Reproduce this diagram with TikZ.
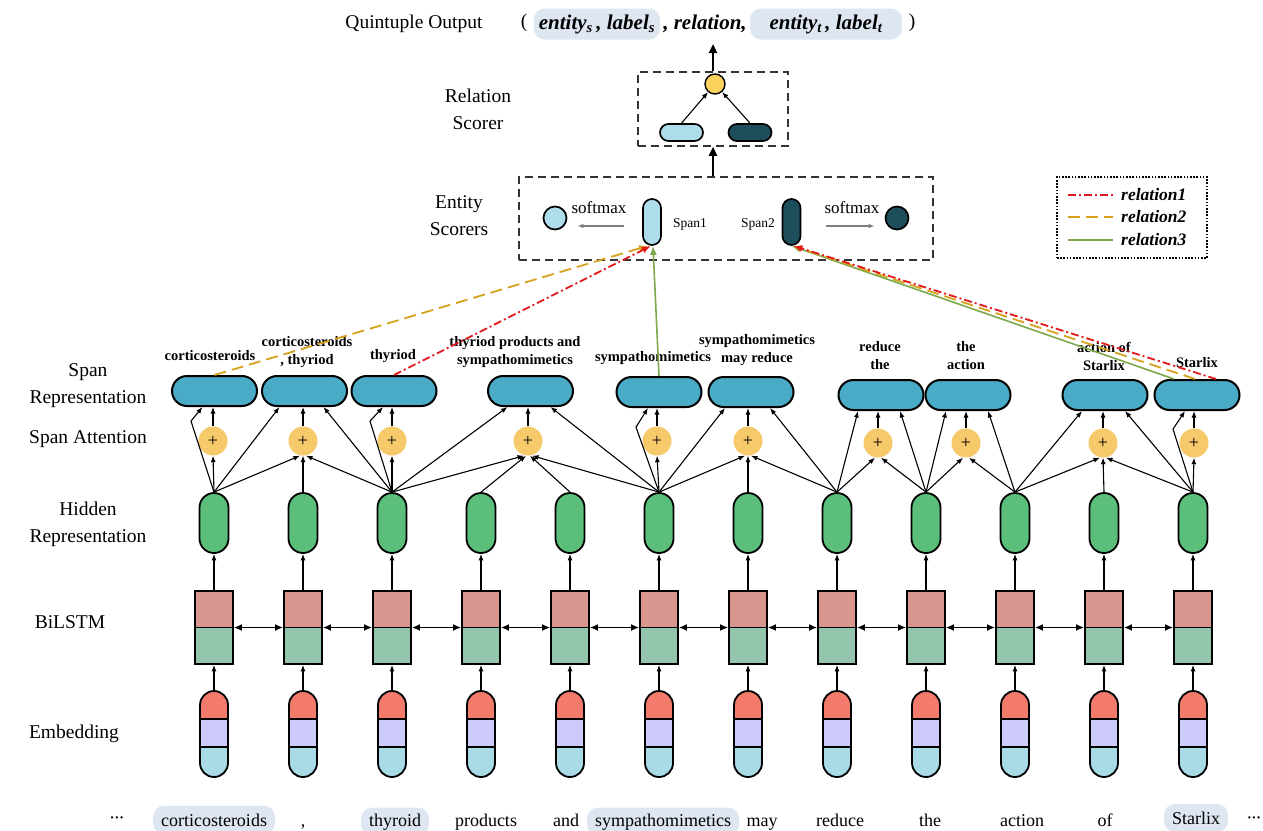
\documentclass[tikz,border=0pt]{standalone}
\usepackage{fontspec}
\setmainfont{Liberation Serif}
\usetikzlibrary{arrows.meta,calc}
\definecolor{spanblue}{HTML}{4AABC6}
\definecolor{plusyel}{HTML}{F6C96B}
\definecolor{hidgreen}{HTML}{5BBF7B}
\definecolor{lstmtop}{HTML}{D9968F}
\definecolor{lstmbot}{HTML}{94C6AD}
\definecolor{embred}{HTML}{F27B6B}
\definecolor{embpur}{HTML}{CDCBFB}
\definecolor{embblue}{HTML}{A8DBE5}
\definecolor{lightspan}{HTML}{ADDCEA}
\definecolor{darkspan}{HTML}{1E4D5C}
\definecolor{relyel}{HTML}{F9D15B}
\definecolor{hlcol}{HTML}{DEE6F1}
\definecolor{rone}{HTML}{E3191C}
\definecolor{rtwo}{HTML}{D6A21E}
\definecolor{rthree}{HTML}{7DA84B}
\definecolor{dashgray}{HTML}{333333}
\tikzset{
  arr/.style={-{Latex[length=6.5pt,width=5pt]}, line width=1.1pt},
  darr/.style={{Latex[length=8pt,width=7pt]}-{Latex[length=8pt,width=7pt]}, line width=1.5pt},
  bigarr/.style={-{Triangle[length=9pt,width=8pt]}, line width=2.2pt},
  grayarr/.style={-{Latex[length=6pt,width=4.5pt]}, line width=1.2pt, gray},
  hid/.style={draw, line width=1.8pt, fill=hidgreen, minimum width=29pt, minimum height=60pt, rounded corners=14.5pt, inner sep=0pt},
  lstm/.style={draw, line width=1.8pt, minimum width=38pt, minimum height=73pt, inner sep=0pt,
    path picture={
      \fill[lstmtop] (path picture bounding box.north west) rectangle (path picture bounding box.east);
      \fill[lstmbot] (path picture bounding box.west) rectangle (path picture bounding box.south east);
      \draw[line width=1.8pt] (path picture bounding box.west) -- (path picture bounding box.east);
    }},
  emb/.style={draw, line width=1.8pt, minimum width=28pt, minimum height=86pt, rounded corners=14pt, inner sep=0pt,
    path picture={
      \fill[embblue, sharp corners] (path picture bounding box.south west) rectangle (path picture bounding box.north east);
      \fill[embred, sharp corners] (path picture bounding box.north west) rectangle ([yshift=-28pt]path picture bounding box.north east);
      \fill[embpur, sharp corners] ([yshift=-28pt]path picture bounding box.north west) rectangle ([yshift=-56pt]path picture bounding box.north east);
      \draw[line width=1.8pt, sharp corners] ([yshift=-28pt]path picture bounding box.north west) -- ([yshift=-28pt]path picture bounding box.north east);
      \draw[line width=1.8pt, sharp corners] ([yshift=-56pt]path picture bounding box.north west) -- ([yshift=-56pt]path picture bounding box.north east);
    }},
  spanbox/.style={draw, line width=2pt, fill=spanblue, minimum width=85pt, minimum height=30pt, rounded corners=15pt, inner sep=0pt},
  plus/.style={circle, fill=plusyel, minimum size=29pt, inner sep=0pt, font=\fontsize{18}{18}\selectfont},
  slabel/.style={font=\fontsize{14.5}{18}\selectfont\bfseries, align=center, inner sep=0pt},
  dashbox/.style={draw=dashgray, line width=1.5pt, dash pattern=on 8pt off 5pt, inner sep=0pt},
  hl/.style={fill=hlcol, rounded corners=11pt, inner xsep=5pt, minimum height=31pt},
  hlw/.style={fill=hlcol, rounded corners=11pt, inner xsep=8pt, minimum height=28pt},
  word/.style={font=\fontsize{18}{20}\selectfont, anchor=base},
  bi/.style={font=\fontsize{21}{24}\selectfont\bfseries\itshape},
  rel1/.style={rone, line width=1.8pt, dash pattern=on 8pt off 3pt on 2pt off 3pt},
  rel2/.style={rtwo, line width=1.8pt, dash pattern=on 12pt off 6pt},
  rel3/.style={rthree, line width=1.6pt},
  reltip/.style={-{Latex[length=9pt,width=7pt]}},
  legtext/.style={font=\fontsize{17.5}{20}\selectfont\bfseries\itshape, inner sep=0pt}
}
\begin{document}
\begin{tikzpicture}[x=1pt,y=-1pt,font=\fontsize{19.5}{27}\selectfont]
\useasboundingbox (0,0) rectangle (1263,830);
\fill[white] (0,0) rectangle (1263,830);

% left labels
\node[align=center] (lsr) at (88,386) {Span\\Representation};
\node (lsa) at (88,439) {Span Attention};
\node[align=center] (lhr) at (88,524) {Hidden\\Representation};
\node (lbl) at (70,622) {BiLSTM};
\node (lem) at (74,734) {Embedding};
\node[align=center] (lrs) at (478,109) {Relation\\Scorer};
\node[align=center] (les) at (459,216) {Entity\\Scorers};

% quintuple output
\node (qo) at (414,24) {Quintuple Output};
\node (lp) at (524,23) {(};
\node[hl, bi, minimum width=126pt] (hq1) at (597,24) {entity\textsubscript{s}\,, label\textsubscript{s}};
\node[bi, inner sep=0pt] (qrel) at (705,24) {, relation,};
\node[hl, bi, minimum width=152pt] (hq2) at (826,24) {entity\textsubscript{t}\,, label\textsubscript{t}\hspace{12pt}};
\node (rp) at (912,23) {)};
\coordinate (qarrow) at (713,44);

% columns
\foreach \i/\x in {1/214,2/303,3/392,4/481,5/570,6/659,7/748,8/837,9/926,10/1015,11/1104,12/1193} {
  \node[hid] (h\i) at (\x,523) {};
  \node[lstm] (r\i) at (\x,627.5) {};
  \node[emb] (e\i) at (\x,734) {};
  \draw[arr] (e\i.north) -- (r\i.south);
  \draw[arr] (r\i.north) -- (h\i.south);
}
\foreach \i in {1,...,11} {
  \pgfmathtruncatemacro{\j}{\i+1}
  \draw[darr] (r\i.east) -- (r\j.west);
}

% span representation boxes
\foreach \i/\x/\y in {1/214.5/391,2/304.5/391,3/394/391,4/530.5/391,5/659/392,6/751/392,7/881/395,8/968/395,9/1105/395,10/1197/395} {
  \node[spanbox] (s\i) at (\x,\y) {};
}
% span attention circles
\foreach \i/\x/\y in {1/213/441,2/303/441,3/392/441,4/528/441,5/657/441,6/748/441,7/878/443,8/966/443,9/1103/443,10/1194/443} {
  \node[plus] (c\i) at (\x,\y) {+};
  \draw[arr] (c\i.north) -- (c\i.north |- s\i.south);
}

% span labels
\node[slabel] (l1) at (210,356) {corticosteroids};
\node[slabel] (l2) at (307,352) {corticosteroids\\, thyriod};
\node[slabel] (l3) at (393,356) {thyriod};
\node[slabel] (l4) at (515,352) {thyriod products and\\sympathomimetics};
\node[slabel] (l5) at (653,358) {sympathomimetics};
\node[slabel] (l6) at (757,350) {sympathomimetics\\may reduce};
\node[slabel] (l7) at (880,356) {reduce\\the};
\node[slabel] (l8) at (966,356) {the\\action};
\node[slabel] (l9) at (1104,356) {action of\\Starlix};
\node[slabel] (l10) at (1197,363) {Starlix};

% span 1
\draw[arr] (h1.north) -- (c1.south);
\draw[arr] (h1.north) -- ($(h1.north)+(-23,-71)$) -- ([xshift=-12pt]s1.south);
% span 2
\draw[arr] (h1.north) -- ([xshift=-3pt]c2.south);
\draw[arr] (h2.north) -- (c2.south);
\draw[arr] (h3.north) -- ([xshift=3pt]c2.south);
\draw[arr] (h1.north) -- ([xshift=-25pt]s2.south);
\draw[arr] (h3.north) -- ([xshift=19pt]s2.south);
% span 3
\draw[arr] (h3.north) -- (c3.south);
\draw[arr] (h3.north) -- ($(h3.north)+(-22,-71)$) -- ([xshift=-11pt]s3.south);
% span 4
\draw[arr] (h3.north) -- ([xshift=-4pt]c4.south);
\draw[arr] (h4.north) -- ([xshift=-2pt]c4.south);
\draw[arr] (h5.north) -- ([xshift=2pt]c4.south);
\draw[arr] (h6.north) -- ([xshift=4pt]c4.south);
\draw[arr] (h3.north) -- ([xshift=-23pt]s4.south);
\draw[arr] (h6.north) -- ([xshift=20pt]s4.south);
% span 5
\draw[arr] (h6.north) -- (c5.south);
\draw[arr] (h6.north) -- ($(h6.north)+(-23,-65)$) -- ([xshift=-11pt]s5.south);
% span 6
\draw[arr] (h6.north) -- ([xshift=-3pt]c6.south);
\draw[arr] (h7.north) -- (c6.south);
\draw[arr] (h8.north) -- ([xshift=3pt]c6.south);
\draw[arr] (h6.north) -- ([xshift=-26pt]s6.south);
\draw[arr] (h8.north) -- ([xshift=19pt]s6.south);
% span 7
\draw[arr] (h8.north) -- ([xshift=-3pt]c7.south);
\draw[arr] (h9.north) -- ([xshift=3pt]c7.south);
\draw[arr] (h8.north) -- ([xshift=-23pt]s7.south);
\draw[arr] (h9.north) -- ([xshift=19pt]s7.south);
% span 8
\draw[arr] (h9.north) -- ([xshift=-3pt]c8.south);
\draw[arr] (h10.north) -- ([xshift=3pt]c8.south);
\draw[arr] (h9.north) -- ([xshift=-22pt]s8.south);
\draw[arr] (h10.north) -- ([xshift=20pt]s8.south);
% span 9
\draw[arr] (h10.north) -- ([xshift=-3pt]c9.south);
\draw[arr] (h11.north) -- (c9.south);
\draw[arr] (h12.north) -- ([xshift=3pt]c9.south);
\draw[arr] (h10.north) -- ([xshift=-23pt]s9.south);
\draw[arr] (h12.north) -- ([xshift=20pt]s9.south);
% span 10
\draw[arr] (h12.north) -- (c10.south);
\draw[arr] (h12.north) -- ($(h12.north)+(-20,-63)$) -- ([xshift=-12pt]s10.south);

% entity scorers
\node[dashbox, minimum width=414pt, minimum height=83pt] (esc) at (726,218.5) {};
\node[draw, line width=1.7pt, fill=lightspan, minimum width=18pt, minimum height=46pt, rounded corners=9pt, inner sep=0pt] (sp1) at (652,222) {};
\node[draw, line width=1.7pt, fill=darkspan, minimum width=18pt, minimum height=46pt, rounded corners=9pt, inner sep=0pt] (sp2) at (791.5,222) {};
\node[circle, draw, line width=1.7pt, fill=lightspan, minimum size=23pt, inner sep=0pt] (ec1) at (555,218) {};
\node[circle, draw, line width=1.7pt, fill=darkspan, minimum size=23pt, inner sep=0pt] (ec2) at (897,218) {};
\node[font=\fontsize{17}{20}\selectfont] (sm1) at (599,208) {softmax};
\node[font=\fontsize{17}{20}\selectfont] (sm2) at (852,208) {softmax};
\node[font=\fontsize{13.5}{16}\selectfont] (sn1) at (690,224) {Span1};
\node[font=\fontsize{13.5}{16}\selectfont] (sn2) at (758,224) {Span2};
\draw[grayarr] ([xshift=-18pt,yshift=-4pt]sp1.west) -- ([xshift=10pt,yshift=-8pt]ec1.east);
\draw[grayarr] ([xshift=25pt,yshift=-4pt]sp2.east) -- ([xshift=-10pt,yshift=-8pt]ec2.west);

% relation scorer
\node[dashbox, minimum width=150pt, minimum height=74pt] (rsc) at (713,109) {};
\node[circle, draw, line width=1.4pt, fill=relyel, minimum size=20pt, inner sep=0pt] (ry) at (715,84) {};
\node[draw, line width=1.7pt, fill=lightspan, minimum width=43pt, minimum height=17pt, rounded corners=8.5pt, inner sep=0pt] (rc1) at (681.5,132.5) {};
\node[draw, line width=1.7pt, fill=darkspan, minimum width=43pt, minimum height=17pt, rounded corners=8.5pt, inner sep=0pt] (rc2) at (750,132.5) {};
\draw[arr] (rc1.north) -- (ry);
\draw[arr] (rc2.north) -- (ry);
\draw[bigarr] (esc.north -| rsc.center) -- (rsc.south);
\draw[bigarr] (rsc.north) -- (qarrow);

% legend
\node[draw, line width=1.5pt, dash pattern=on 1.6pt off 1.6pt, minimum width=150pt, minimum height=81pt, inner sep=0pt] (leg) at (1132,217.5) {};
\node[legtext, anchor=west] (lt1) at (1121,195) {relation1};
\node[legtext, anchor=west] (lt2) at (1121,217) {relation2};
\node[legtext, anchor=west] (lt3) at (1121,240) {relation3};
\draw[rel1] ([xshift=-53pt]lt1.west) -- ([xshift=-8pt]lt1.west);
\draw[rel2] ([xshift=-53pt]lt2.west) -- ([xshift=-8pt]lt2.west);
\draw[rel3] ([xshift=-53pt]lt3.west) -- ([xshift=-8pt]lt3.west);

% relation connectors
\draw[rel2, reltip] (s1.north) -- ([xshift=-4pt]sp1.south);
\draw[rel1, reltip] (s3.north) -- ([xshift=-1pt]sp1.south);
\draw[rel3, reltip] (s5.north) -- ([xshift=1pt]sp1.south);
\draw[rel3, reltip] ([xshift=-23pt]s10.north) -- ([xshift=0pt]sp2.south);
\draw[rel2, reltip] ([xshift=-2pt]s10.north) -- ([xshift=1pt]sp2.south);
\draw[rel1, reltip] ([xshift=19pt]s10.north) -- ([xshift=2pt]sp2.south);

% bottom words
\node[word, font=\fontsize{14}{16}\selectfont\bfseries] (w0) at (117,822) {···};
\node[word, hlw] (w1) at (214,826) {corticosteroids};
\node[word] (w2) at (303,826) {,};
\node[word, hlw] (w3) at (395,826) {thyroid};
\node[word] (w4) at (486,826) {products};
\node[word] (w5) at (566,826) {and};
\node[word, hlw] (w6) at (663,826) {sympathomimetics};
\node[word] (w7) at (762,826) {may};
\node[word] (w8) at (840,826) {reduce};
\node[word] (w9) at (930,826) {the};
\node[word] (w10) at (1022,826) {action};
\node[word] (w11) at (1105,826) {of};
\node[word, hlw] (w12) at (1196,824) {Starlix};
\node[word, font=\fontsize{14}{16}\selectfont\bfseries] (w13) at (1254,822) {···};
\end{tikzpicture}
\end{document}
